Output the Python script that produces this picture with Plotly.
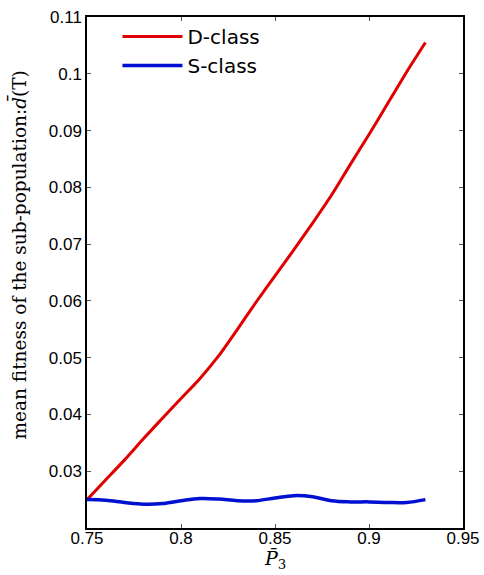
import plotly.graph_objects as go

p3 = [0.75, 0.76, 0.77, 0.78, 0.79, 0.80, 0.81, 0.82, 0.83, 0.84,
      0.85, 0.86, 0.87, 0.88, 0.89, 0.90, 0.91, 0.92, 0.93]
d_class = [0.0250, 0.0285, 0.0320, 0.0357, 0.0393, 0.0428, 0.0463, 0.0503, 0.0550, 0.0598,
           0.0644, 0.0690, 0.0737, 0.0786, 0.0840, 0.0893, 0.0948, 0.1003, 0.1055]
s_class = [0.0250, 0.0249, 0.0245, 0.0242, 0.0243, 0.0248, 0.0252, 0.0251, 0.0248, 0.0248,
           0.0253, 0.0257, 0.0255, 0.0248, 0.0246, 0.0246, 0.0245, 0.0245, 0.0250]

x_ticks = [0.75, 0.8, 0.85, 0.9, 0.95]
x_labels = ["0.75", "0.8", "0.85", "0.9", "0.95"]
y_ticks = [0.03, 0.04, 0.05, 0.06, 0.07, 0.08, 0.09, 0.10, 0.11]
y_labels = ["0.03", "0.04", "0.05", "0.06", "0.07", "0.08", "0.09", "0.1", "0.11"]

fig = go.Figure()
fig.add_trace(go.Scatter(x=p3, y=d_class, mode="lines", name="D-class",
                         line=dict(color="#e00000", width=3, shape="spline", smoothing=0.6)))
fig.add_trace(go.Scatter(x=p3, y=s_class, mode="lines", name="S-class",
                         line=dict(color="#0010d0", width=3.5, shape="spline")))

axis_common = dict(showgrid=False, zeroline=False, showline=True, linecolor="black",
                   linewidth=1.5, mirror="ticks", ticks="inside", ticklen=4,
                   tickcolor="#555555", automargin=False, ticklabeloverflow="allow",
                   tickfont=dict(family="Liberation Sans, Arial", size=17, color="black"))

fig.update_layout(
    width=484, height=575,
    margin=dict(l=87, r=21, t=17, b=47, autoexpand=False),
    paper_bgcolor="white", plot_bgcolor="white",
    showlegend=True,
    legend=dict(x=0.081, y=1.0, xanchor="left", yanchor="top",
                bgcolor="rgba(0,0,0,0)", borderwidth=0,
                font=dict(family="DejaVu Sans", size=20, color="black"),
                itemwidth=60, tracegroupgap=0),
    xaxis=dict(range=[0.75, 0.95], tickvals=x_ticks, ticktext=x_labels,
               ticklabelstandoff=-6, **axis_common),
    yaxis=dict(range=[0.02, 0.11], tickvals=y_ticks, ticktext=y_labels, **axis_common),
    annotations=[
        dict(text="<i>P̄</i><sub>3</sub>", xref="paper", yref="paper",
             x=0.5, y=0, yshift=-31, xanchor="center", yanchor="middle", showarrow=False,
             font=dict(family="DejaVu Serif, serif", size=19, color="black")),
        dict(text="mean fitness of the sub-population:<i>d̄</i>(T)", xref="paper", yref="paper",
             x=0, xshift=-69, y=0.5, yshift=17, xanchor="center", yanchor="middle",
             textangle=-90, showarrow=False,
             font=dict(family="DejaVu Serif, serif", size=18.5, color="black")),
    ],
)

fig.write_html("out.html", config={"displayModeBar": False},
               post_script="document.body.style.margin='0';document.body.style.overflow='hidden';")
